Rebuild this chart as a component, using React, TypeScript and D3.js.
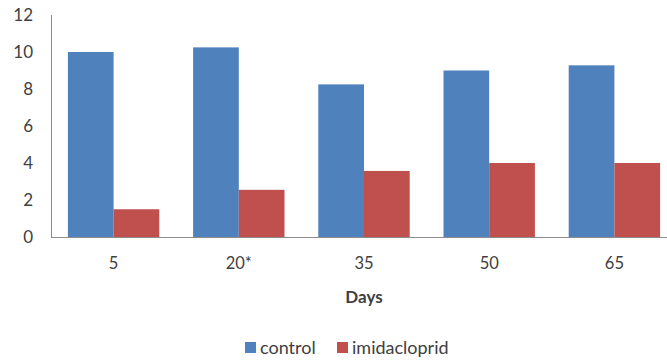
import React from "react";
import * as d3 from "d3";

const categories = ["5", "20*", "35", "50", "65"];
const control = [10.0, 10.25, 8.25, 9.0, 9.28];
const imidacloprid = [1.5, 2.55, 3.57, 4.0, 4.0];
const yTicks = [0, 2, 4, 6, 8, 10, 12];
const seriesNames = ["control", "imidacloprid"];
const colors = ["#4F81BD", "#C0504D"];

export default function App() {
  const W = 667, H = 360;
  const left = 51, right = 677, top = 15, bottom = 237;
  const x = d3.scaleBand().domain(categories).range([left, right]).paddingInner(0.27).paddingOuter(0.135);
  const xs = d3.scaleBand().domain(seriesNames).range([0, x.bandwidth()]);
  const y = d3.scaleLinear().domain([0, 12]).range([bottom, top]);
  const series = [control, imidacloprid];
  const font = "Lato, 'Open Sans', sans-serif";
  return (
    <svg width={W} height={H} style={{ position: "absolute", left: 0, top: 0, background: "#fff" }} fontFamily={font}>
      {series.map((vals, si) =>
        vals.map((v, i) => (
          <rect key={si + "-" + i} x={(x(categories[i]) as number) + (xs(seriesNames[si]) as number)} y={y(v)} width={xs.bandwidth()} height={y(0) - y(v)} fill={colors[si]} />
        ))
      )}
      <line x1={left + 0.5} x2={left + 0.5} y1={top} y2={bottom} stroke="#8c8c8c" strokeWidth={1} />
      <line x1={left} x2={right} y1={bottom + 0.5} y2={bottom + 0.5} stroke="#8c8c8c" strokeWidth={1} />
      {yTicks.map((t) => (
        <text key={t} x={33} y={y(t)} dy="0.35em" textAnchor="end" fontSize={17} fill="#404040">{t}</text>
      ))}
      {categories.map((c) => (
        <text key={c} x={(x(c) as number) + x.bandwidth() / 2} y={263} dy="0.35em" textAnchor="middle" fontSize={16.5} fill="#404040">{c}</text>
      ))}
      <text x={364} y={297} dy="0.35em" textAnchor="middle" fontSize={17} fontWeight="bold" fill="#404040">Days</text>
      {seriesNames.map((s, i) => {
        const lx = [245, 337][i];
        return (
          <g key={s}>
            <rect x={lx} y={342} width={11} height={11} fill={colors[i]} />
            <text x={lx + 15} y={348} dy="0.35em" fontSize={18} fill="#404040">{s}</text>
          </g>
        );
      })}
    </svg>
  );
}
